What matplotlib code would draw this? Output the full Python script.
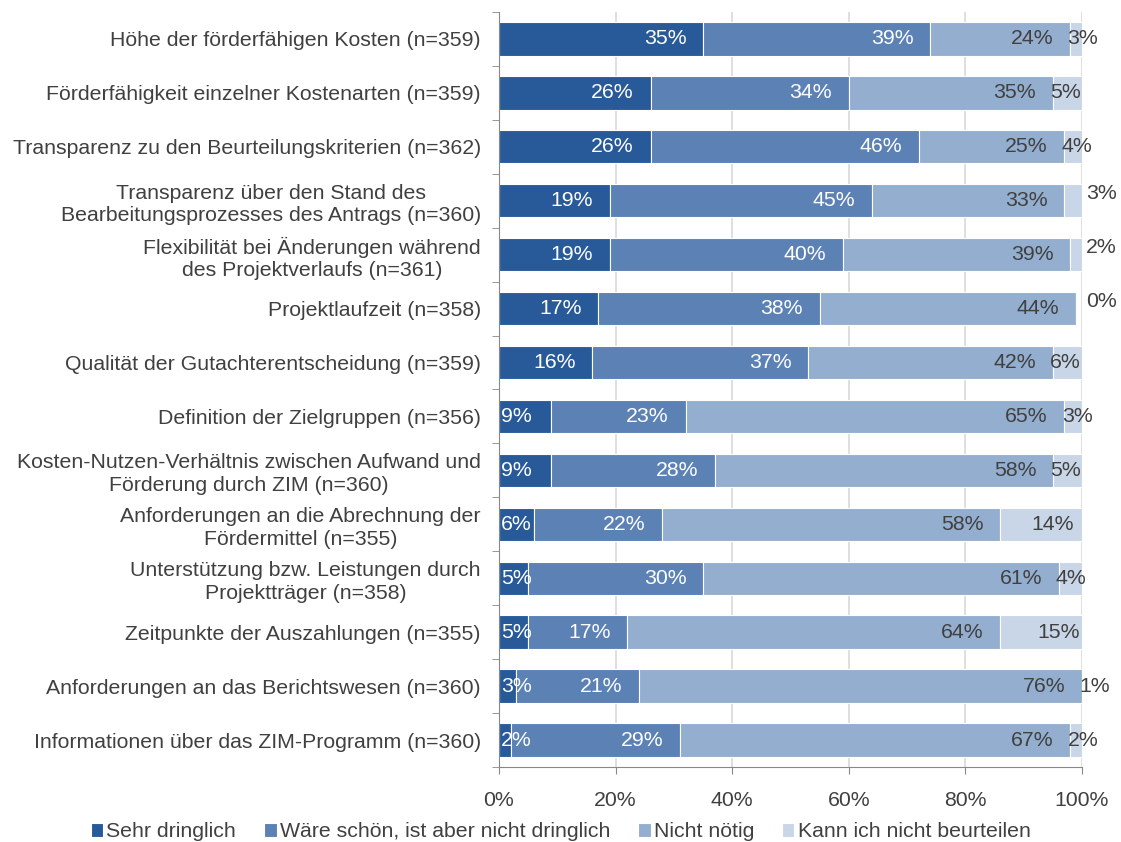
import matplotlib.pyplot as plt
from matplotlib.ticker import FixedLocator, FuncFormatter

plt.rcParams['font.family'] = ['Liberation Sans', 'DejaVu Sans']

# survey items (top to bottom) and answer shares in percent
items = [
    "Höhe der förderfähigen Kosten (n=359)",
    "Förderfähigkeit einzelner Kostenarten (n=359)",
    "Transparenz zu den Beurteilungskriterien (n=362)",
    "Transparenz über den Stand des\nBearbeitungsprozesses des Antrags (n=360)",
    "Flexibilität bei Änderungen während\ndes Projektverlaufs (n=361)",
    "Projektlaufzeit (n=358)",
    "Qualität der Gutachterentscheidung (n=359)",
    "Definition der Zielgruppen (n=356)",
    "Kosten-Nutzen-Verhältnis zwischen Aufwand und\nFörderung durch ZIM (n=360)",
    "Anforderungen an die Abrechnung der\nFördermittel (n=355)",
    "Unterstützung bzw. Leistungen durch\nProjektträger (n=358)",
    "Zeitpunkte der Auszahlungen (n=355)",
    "Anforderungen an das Berichtswesen (n=360)",
    "Informationen über das ZIM-Programm (n=360)",
]
sehr_dringlich = [35, 26, 26, 19, 19, 17, 16, 9, 9, 6, 5, 5, 3, 2]
waere_schoen = [39, 34, 46, 45, 40, 38, 37, 23, 28, 22, 30, 17, 21, 29]
nicht_noetig = [24, 35, 25, 33, 39, 44, 42, 65, 58, 58, 61, 64, 76, 67]
kann_nicht = [3, 5, 4, 3, 2, 0, 6, 3, 5, 14, 4, 15, 1, 2]

series_names = ["Sehr dringlich", "Wäre schön, ist aber nicht dringlich",
                "Nicht nötig", "Kann ich nicht beurteilen"]
series = [sehr_dringlich, waere_schoen, nicht_noetig, kann_nicht]
colors = ["#285A99", "#5B81B5", "#93AECE", "#C9D6E7"]
label_colors = ["white", "white", "#404040", "#404040"]
# rows whose last label sits outside the bar, a bit above
raised_last = {3, 4, 5}

TEXT = "#404040"
FS = 15.3

fig = plt.figure(figsize=(11.21, 8.42), dpi=100)
ax = fig.add_axes([0.4451, 0.0891, 0.5201, 0.8967])

ypos = list(range(len(items)))
left = [0] * len(items)
for k, (vals, col) in enumerate(zip(series, colors)):
    ax.barh(ypos, vals, left=left, height=0.62, color=col,
            edgecolor="white", linewidth=0.8, label=series_names[k], zorder=2)
    for i, v in enumerate(vals):
        start = left[i]
        end = start + v
        txt = f"{v}%"
        kw = dict(color=label_colors[k], fontsize=FS, va="center",
                  textcoords="offset points", annotation_clip=False, zorder=3)
        if k == 3 and i in raised_last:
            ax.annotate(txt, (100, i), xytext=(3, 5), ha="left", **kw)
        elif v < 10:
            ax.annotate(txt, (start, i), xytext=(-2 if k == 3 else 1.5, 0),
                        ha="left", **kw)
        elif k == 3:
            ax.annotate(txt, (end, i), xytext=(-6, 0), ha="right", **kw)
        else:
            ax.annotate(txt, (end, i), xytext=(-12, 0), ha="right", **kw)
    left = [a + b for a, b in zip(left, vals)]

ax.set_xlim(0, 100)
ax.set_ylim(len(items) - 0.5, -0.5)

ax.set_xticks([0, 20, 40, 60, 80, 100])
ax.xaxis.set_major_formatter(FuncFormatter(lambda x, p: f"{x:.0f}%"))
ax.grid(axis="x", color="#D9D9D9", linewidth=1.2, zorder=0)
ax.set_axisbelow(True)

ax.set_yticks(ypos)
ax.set_yticklabels(items, fontsize=FS, color=TEXT, multialignment="center",
                   linespacing=1.22)
ax.yaxis.set_minor_locator(FixedLocator([i - 0.5 for i in range(len(items) + 1)]))
ax.tick_params(axis="y", which="major", length=0, pad=13)
ax.tick_params(axis="y", which="minor", length=5, color="#888888")
ax.tick_params(axis="x", length=5, color="#888888", labelsize=FS,
               labelcolor=TEXT, pad=12)

for side in ["top", "right"]:
    ax.spines[side].set_visible(False)
for side in ["left", "bottom"]:
    ax.spines[side].set_color("#888888")

fig.legend(loc="lower center", bbox_to_anchor=(0.5, -0.022), ncol=4,
           frameon=False, fontsize=FS, labelcolor=TEXT,
           handlelength=0.6, handleheight=0.6, handletextpad=0.15,
           columnspacing=1.3)

fig.savefig("out.png", dpi=100)
